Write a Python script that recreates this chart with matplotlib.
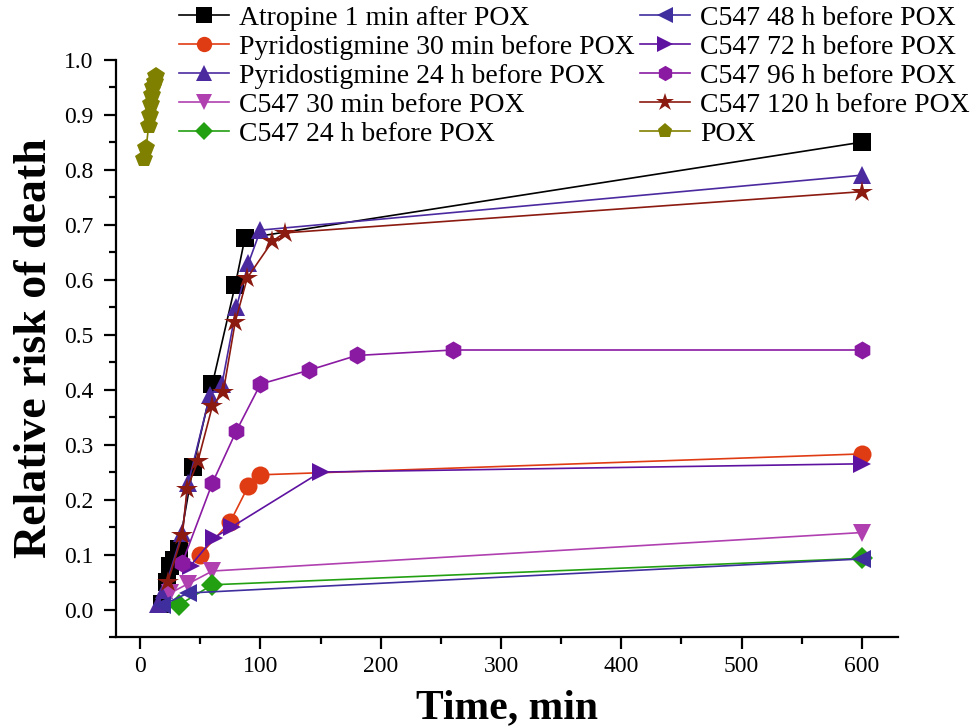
import numpy as np
import matplotlib
matplotlib.use('Agg')
import matplotlib.pyplot as plt
from matplotlib.ticker import MultipleLocator

plt.rcParams['font.family'] = ['Liberation Serif', 'DejaVu Serif']

# data (time in min, relative risk of death)
atropine_x = [18, 22, 25, 28, 32, 44, 60, 79, 87, 600]
atropine_y = [0.01, 0.05, 0.08, 0.09, 0.11, 0.26, 0.41, 0.59, 0.675, 0.85]

pyr30_x = [50, 75, 90, 100, 600]
pyr30_y = [0.10, 0.16, 0.225, 0.245, 0.283]

pyr24_x = [15, 20, 35, 40, 58, 68, 80, 90, 100, 600]
pyr24_y = [0.01, 0.035, 0.14, 0.23, 0.39, 0.41, 0.55, 0.63, 0.69, 0.79]

c30m_x = [25, 40, 60, 600]
c30m_y = [0.03, 0.047, 0.07, 0.14]

c24_x = [32, 60, 600]
c24_y = [0.008, 0.045, 0.093]

c48_x = [18, 40, 600]
c48_y = [0.008, 0.03, 0.092]

c72_x = [42, 61, 76, 150, 600]
c72_y = [0.08, 0.13, 0.15, 0.25, 0.265]

c96_x = [35, 60, 80, 100, 140, 180, 260, 600]
c96_y = [0.085, 0.23, 0.325, 0.41, 0.435, 0.462, 0.472, 0.472]

c120_x = [23, 35, 39, 48, 60, 69, 79, 89, 110, 120, 600]
c120_y = [0.05, 0.135, 0.22, 0.27, 0.37, 0.395, 0.523, 0.603, 0.67, 0.685, 0.76]

pox_x = [3, 5, 7, 8, 9, 10, 11, 12, 13]
pox_y = [0.82, 0.84, 0.88, 0.90, 0.92, 0.935, 0.95, 0.96, 0.97]

series = [
    ('Atropine 1 min after POX', atropine_x, atropine_y, 's', '#000000'),
    ('Pyridostigmine 30 min before POX', pyr30_x, pyr30_y, 'o', '#E03C14'),
    ('Pyridostigmine 24 h before POX', pyr24_x, pyr24_y, '^', '#4B2AA0'),
    ('C547 30 min before POX', c30m_x, c30m_y, 'v', '#B040B0'),
    ('C547 24 h before POX', c24_x, c24_y, 'D', '#22A012'),
    ('C547 48 h before POX', c48_x, c48_y, '<', '#3F2E9E'),
    ('C547 72 h before POX', c72_x, c72_y, '>', '#5E12A0'),
    ('C547 96 h before POX', c96_x, c96_y, 'h', '#8A1AA2'),
    ('C547 120 h before POX', c120_x, c120_y, '*', '#8B1A10'),
    ('POX', pox_x, pox_y, 'p', '#808000'),
]

fig = plt.figure(figsize=(9.76, 7.28), dpi=100)
ax = fig.add_axes([0.119, 0.125, 0.801, 0.793])

for label, x, y, m, c in series:
    ms = 13
    if m == '*':
        ms = 16
    elif m == 'D':
        ms = 11
    ax.plot(x, y, marker=m, color=c, markersize=ms, linewidth=1.2,
            markeredgewidth=0, label=label)

ax.set_xlim(-20, 630)
ax.set_ylim(-0.05, 1.0)
ax.xaxis.set_major_locator(MultipleLocator(100))
ax.xaxis.set_minor_locator(MultipleLocator(50))
ax.yaxis.set_major_locator(MultipleLocator(0.1))
ax.yaxis.set_minor_locator(MultipleLocator(0.05))
ax.yaxis.set_major_formatter(matplotlib.ticker.FormatStrFormatter('%.1f'))

for s in ['top', 'right']:
    ax.spines[s].set_visible(False)
for s in ['left', 'bottom']:
    ax.spines[s].set_linewidth(1.6)

ax.tick_params(which='major', direction='out', length=8.5, width=1.6,
               labelsize=17, pad=5)
ax.tick_params(axis='y', which='major', pad=8)
ax.tick_params(which='minor', direction='out', length=5, width=1.6)

ax.set_xlabel('Time, min', fontsize=30, fontweight='bold', labelpad=9)
ax.set_ylabel('Relative risk of death', fontsize=33, fontweight='bold', labelpad=6)

fig.legend(loc='upper left', bbox_to_anchor=(0.178, 1.0), ncol=2, frameon=False,
           fontsize=20, handlelength=1.8, handletextpad=0.35, columnspacing=0.2,
           labelspacing=0.13, borderpad=0.2, borderaxespad=0, markerscale=0.85)

plt.savefig('out.png', dpi=100)
